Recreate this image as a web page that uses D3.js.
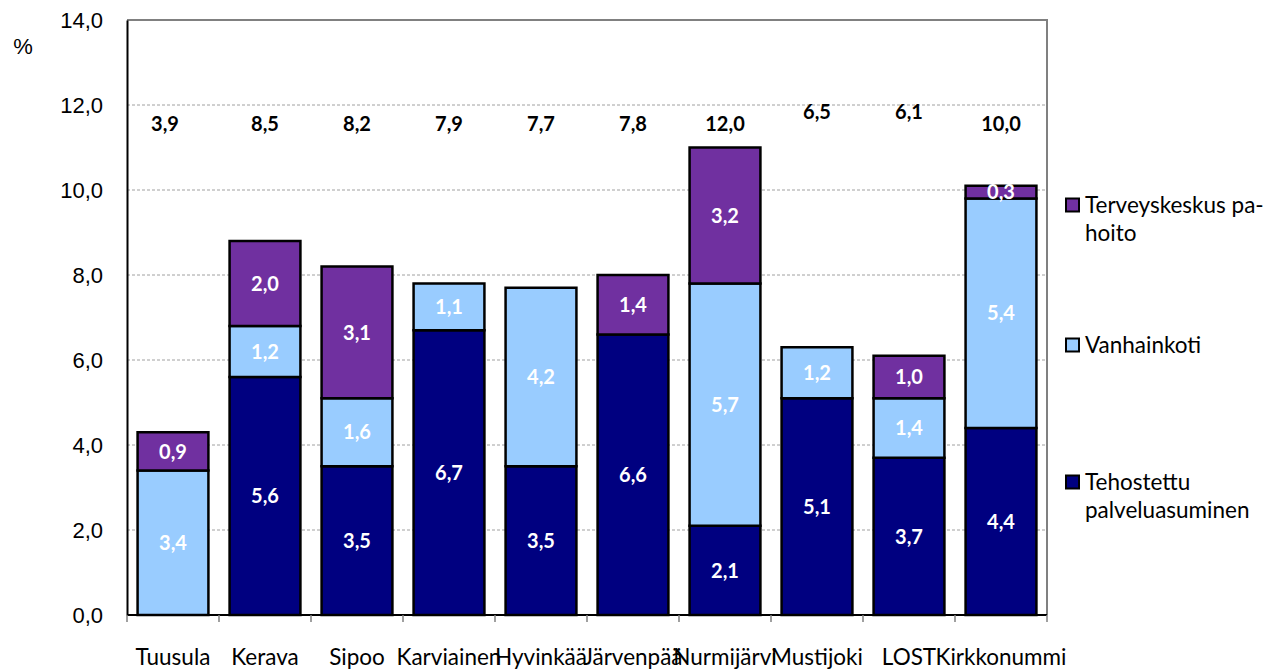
<!DOCTYPE html>
<html>
<head>
<meta charset="utf-8">
<script src="https://cdn.jsdelivr.net/npm/d3@7"></script>
<style>
  html, body { margin: 0; padding: 0; background: #fff; }
  svg { display: block; }
</style>
</head>
<body>
<svg id="chart" width="1279" height="671"></svg>
<script>
// Municipalities
const categories = ["Tuusula", "Kerava", "Sipoo", "Karviainen", "Hyvinkää", "Järvenpää", "Nurmijärvi", "Mustijoki", "LOST", "Kirkkonummi"];

// Share (%) per care form, stacked bottom to top
const tehostettu = [0, 5.6, 3.5, 6.7, 3.5, 6.6, 2.1, 5.1, 3.7, 4.4];
const vanhainkoti = [3.4, 1.2, 1.6, 1.1, 4.2, 0, 5.7, 1.2, 1.4, 5.4];
const terveyskeskus = [0.9, 2.0, 3.1, 0, 0, 1.4, 3.2, 0, 1.0, 0.3];

// Figures printed above the bars
const topFigures = [3.9, 8.5, 8.2, 7.9, 7.7, 7.8, 12.0, 6.5, 6.1, 10.0];

const yTicks = [0, 2, 4, 6, 8, 10, 12, 14];

const seriesNames = ["Tehostettu palveluasuminen", "Vanhainkoti", "Terveyskeskus pa-hoito"];
const seriesColors = ["#000080", "#99CCFF", "#7030A0"];

const fmt = v => v.toFixed(1).replace(".", ",");

const svg = d3.select("#chart");
const plot = { left: 127, right: 1047, top: 20, bottom: 615 };

const x = d3.scaleBand()
  .domain(categories)
  .range([plot.left, plot.right])
  .paddingInner(0.23)
  .paddingOuter(0.115);

const y = d3.scaleLinear().domain([0, 14]).range([plot.bottom, plot.top]);

// Gridlines
svg.append("g")
  .selectAll("line")
  .data(yTicks.filter(t => t > 0 && t < 14))
  .join("line")
  .attr("x1", plot.left).attr("x2", plot.right)
  .attr("y1", d => y(d)).attr("y2", d => y(d))
  .attr("stroke", "#a0a0a0")
  .attr("stroke-width", 1)
  .attr("stroke-dasharray", "3,2");

// Plot frame (top and right)
svg.append("path")
  .attr("d", `M${plot.left},${plot.top}H${plot.right}V${plot.bottom}`)
  .attr("fill", "none")
  .attr("stroke", "#808080")
  .attr("stroke-width", 2);

// Stacked bars
const rows = categories.map((c, i) => ({
  cat: c, tehostettu: tehostettu[i], vanhainkoti: vanhainkoti[i], terveyskeskus: terveyskeskus[i]
}));
const keys = ["tehostettu", "vanhainkoti", "terveyskeskus"];
const stacked = d3.stack().keys(keys)(rows);

const layers = svg.append("g")
  .selectAll("g")
  .data(stacked)
  .join("g")
  .attr("fill", (d, i) => seriesColors[i]);

layers.selectAll("rect")
  .data(d => d.filter(s => s[1] - s[0] > 0))
  .join("rect")
  .attr("x", d => x(d.data.cat))
  .attr("width", x.bandwidth())
  .attr("y", d => y(d[1]))
  .attr("height", d => y(d[0]) - y(d[1]))
  .attr("stroke", "#000")
  .attr("stroke-width", 2.5);

// Segment values
layers.selectAll("text")
  .data(d => d.filter(s => s[1] - s[0] > 0))
  .join("text")
  .attr("x", d => x(d.data.cat) + x.bandwidth() / 2)
  .attr("y", d => (y(d[0]) + y(d[1])) / 2)
  .attr("dy", "0.36em")
  .attr("text-anchor", "middle")
  .attr("fill", "#fff")
  .attr("font-family", "Lato, 'Open Sans', sans-serif")
  .attr("font-weight", "bold")
  .attr("font-size", 20)
  .text(d => fmt(d[1] - d[0]));

// Figures above the bars
const raised = new Set(["Mustijoki", "LOST"]);
svg.append("g")
  .selectAll("text")
  .data(topFigures)
  .join("text")
  .attr("x", (d, i) => x(categories[i]) + x.bandwidth() / 2 - (i === 0 ? 8 : 0))
  .attr("y", (d, i) => y(11.55) + (raised.has(categories[i]) ? -12 : 0))
  .attr("dy", "0.36em")
  .attr("text-anchor", "middle")
  .attr("fill", "#000")
  .attr("font-family", "Lato, 'Open Sans', sans-serif")
  .attr("font-weight", "bold")
  .attr("font-size", 20)
  .text(d => fmt(d));

// Y axis
const yAxis = svg.append("g")
  .attr("transform", `translate(${plot.left},0)`)
  .call(d3.axisLeft(y).tickValues(yTicks).tickSize(0).tickPadding(24).tickFormat(fmt));
yAxis.select(".domain").attr("stroke", "#000").attr("stroke-width", 2);
yAxis.selectAll("text")
  .attr("font-family", "'Liberation Sans', Arial, sans-serif")
  .attr("font-size", 22)
  .attr("fill", "#000");

svg.append("text")
  .attr("x", 23).attr("y", 46)
  .attr("dy", "0.36em")
  .attr("text-anchor", "middle")
  .attr("font-family", "'Liberation Sans', Arial, sans-serif")
  .attr("font-size", 22)
  .text("%");

// X axis with ticks at category boundaries
const xAxis = svg.append("g")
  .attr("transform", `translate(0,${plot.bottom})`);
xAxis.append("line")
  .attr("x1", plot.left).attr("x2", plot.right)
  .attr("stroke", "#000").attr("stroke-width", 2);
const bounds = d3.range(categories.length + 1).map(i => plot.left + i * x.step());
xAxis.selectAll("line.tick")
  .data(bounds)
  .join("line")
  .attr("class", "tick")
  .attr("x1", d => d).attr("x2", d => d)
  .attr("y1", 0).attr("y2", 7)
  .attr("stroke", "#808080").attr("stroke-width", 1.5);
xAxis.selectAll("text")
  .data(categories)
  .join("text")
  .attr("x", d => x(d) + x.bandwidth() / 2)
  .attr("y", 50)
  .attr("text-anchor", "middle")
  .attr("font-family", "Lato, 'Open Sans', sans-serif")
  .attr("font-size", 22.5)
  .attr("fill", "#000")
  .text(d => d);

// Legend
const legendItems = [
  { i: 2, lines: ["Terveyskeskus pa-", "hoito"], cy: 205 },
  { i: 1, lines: ["Vanhainkoti"], cy: 345 },
  { i: 0, lines: ["Tehostettu", "palveluasuminen"], cy: 482 }
];
const legend = svg.append("g");
legendItems.forEach(item => {
  legend.append("rect")
    .attr("x", 1066).attr("y", item.cy - 6.5)
    .attr("width", 13).attr("height", 13)
    .attr("fill", seriesColors[item.i])
    .attr("stroke", "#000").attr("stroke-width", 2);
  const t = legend.append("text")
    .attr("x", 1085).attr("y", item.cy + 8)
    .attr("font-family", "Lato, 'Open Sans', sans-serif")
    .attr("font-size", 22.5)
    .attr("fill", "#000");
  item.lines.forEach((ln, k) => {
    t.append("tspan").attr("x", 1085).attr("dy", k === 0 ? 0 : 28).text(ln);
  });
});
</script>
</body>
</html>
